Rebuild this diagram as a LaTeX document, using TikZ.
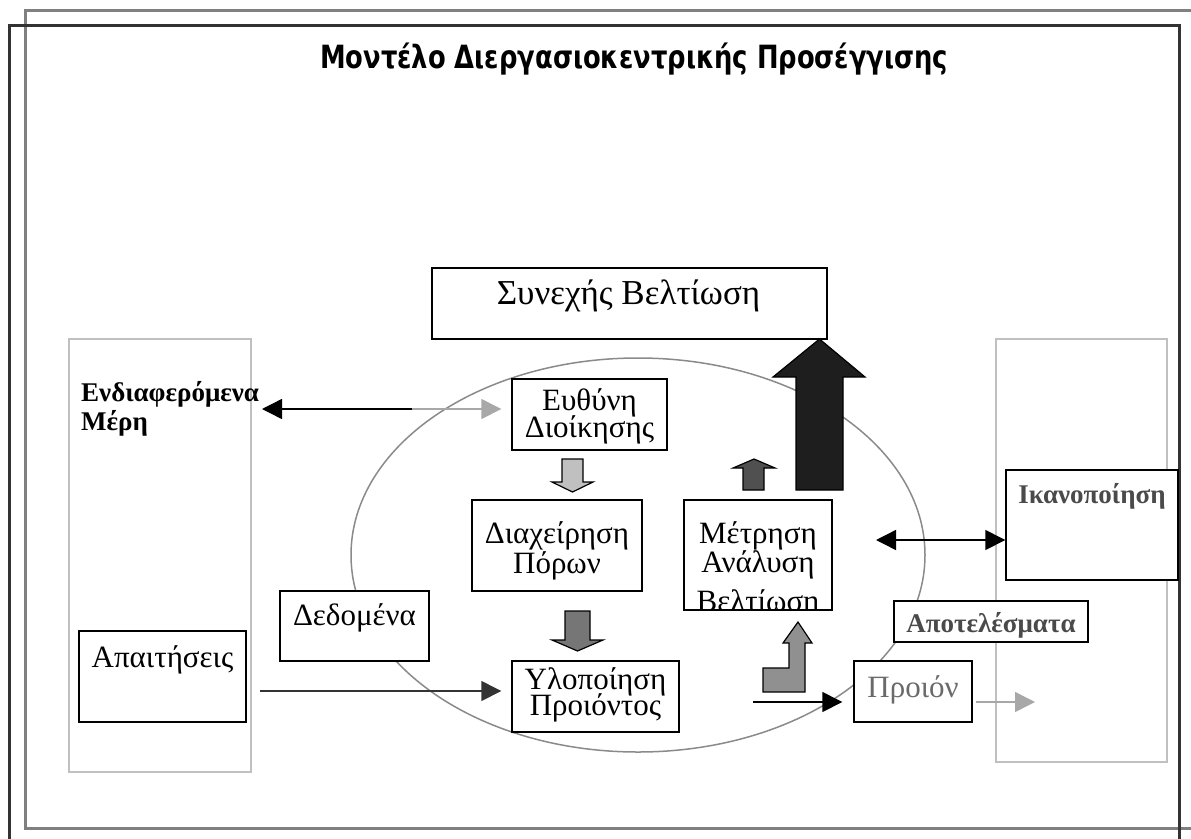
\documentclass[tikz,border=0pt]{standalone}
\usepackage{fontspec}
\usepackage{graphicx}
\setmainfont{Liberation Serif}
\newfontfamily\titlefont{DejaVu Sans}
\usetikzlibrary{arrows.meta}
\definecolor{framegray}{HTML}{808080}
\definecolor{framedark}{HTML}{333333}
\definecolor{panelgray}{HTML}{C0C0C0}
\definecolor{ellgray}{HTML}{8A8A8A}
\definecolor{lightfill}{HTML}{C0C0C0}
\definecolor{midfill}{HTML}{767676}
\definecolor{darkfill}{HTML}{505050}
\definecolor{blackfill}{HTML}{1E1E1E}
\definecolor{lfill}{HTML}{909090}
\definecolor{lightline}{HTML}{A8A8A8}
\definecolor{boldgray}{HTML}{4A4A4A}
\definecolor{prodgray}{HTML}{6A6A6A}
\tikzset{
  box/.style={draw=black, line width=1.4pt, fill=white, inner sep=0pt},
  panel/.style={draw=panelgray, line width=1.5pt, inner sep=0pt},
  txt/.style={font=\fontsize{31}{35}\selectfont, inner sep=0pt, anchor=base},
  bigtxt/.style={font=\fontsize{35}{39}\selectfont, inner sep=0pt, anchor=base},
  btxt/.style={font=\fontsize{27}{31}\selectfont\bfseries, inner sep=0pt, anchor=base},
  conn/.style={line width=1.4pt},
  blk/.style={draw=black, line width=1.2pt, line join=miter},
  tri/.tip={Triangle[length=20pt,width=20pt]}
}
\begin{document}
\begin{tikzpicture}[x=1pt,y=-1pt]
\useasboundingbox (0,0) rectangle (1191,838);
\clip (0,0) rectangle (1191,838);
% frames
\draw[framegray, line width=3pt] (25,10) rectangle (1210,828);
\draw[framedark, line width=3pt] (9,25) rectangle (1179,860);
% title
\node[anchor=base west, inner sep=0pt] (title) at (320,68)
  {\resizebox{628pt}{\height}{\titlefont\bfseries\fontsize{32}{36}\selectfont Μοντέλο Διεργασιοκεντρικής Προσέγγισης}};
% panels
\node[panel, minimum width=182pt, minimum height=433pt] (lpanel) at (160,555.5) {};
\node[panel, minimum width=171pt, minimum height=423pt] (rpanel) at (1081.5,550.5) {};
% ellipse
\coordinate (ellc) at (638,555);
\draw[ellgray, line width=1.5pt] (ellc) ellipse [x radius=287, y radius=197];
% boxes
\node[box, minimum width=395pt, minimum height=71pt] (syn) at (629.5,303.5) {};
\node[box, minimum width=155pt, minimum height=71pt] (euth) at (589.5,414.5) {};
\node[box, minimum width=170pt, minimum height=91pt] (diax) at (557,545.5) {};
\node[box, minimum width=167pt, minimum height=71pt] (ylo) at (595.5,696.5) {};
\node[box, minimum width=148pt, minimum height=110pt] (metr) at (758,555) {};
\node[box, minimum width=149pt, minimum height=70pt] (ded) at (354.5,626) {};
\node[box, minimum width=167pt, minimum height=91pt] (apait) at (162.5,676.5) {};
\node[box, minimum width=172pt, minimum height=110pt] (ikan) at (1092,525) {};
\node[box, minimum width=194pt, minimum height=41pt] (apot) at (991,621.5) {};
\node[box, minimum width=118pt, minimum height=61pt] (proion) at (913,691.5) {};
% texts
\node[bigtxt] (tsyn) at (628.5,304) {Συνεχής Βελτίωση};
\node[txt] (teuth1) at (589.5,410) {Ευθύνη};
\node[txt] (teuth2) at (589.5,437) {Διοίκησης};
\node[txt] (tdiax1) at (557,543) {Διαχείρηση};
\node[txt] (tdiax2) at (557,573) {Πόρων};
\node[txt] (tylo1) at (595.5,689) {Υλοποίηση};
\node[txt] (tylo2) at (595.5,715) {Προιόντος};
\node[txt] (tmetr1) at (758,543) {Μέτρηση};
\node[txt] (tmetr2) at (758,572) {Ανάλυση};
\begin{scope}
  \clip (metr.north west) rectangle (metr.south east);
  \node[txt] (tmetr3) at (758,611) {Βελτίωση};
\end{scope}
\draw[line width=1.4pt] (metr.north west) rectangle (metr.south east);
\node[txt] (tded) at (354.5,625) {Δεδομένα};
\node[txt] (tapait) at (162.5,667) {Απαιτήσεις};
\node[btxt, text=boldgray] (tikan) at (1092,503) {Ικανοποίηση};
\node[btxt, text=boldgray] (tapot) at (991,632) {Αποτελέσματα};
\node[txt, text=prodgray] (tproion) at (913,697) {Προιόν};
\node[btxt, anchor=base west] (tstake1) at (81,401) {Ενδιαφερόμενα};
\node[btxt, anchor=base west] (tstake2) at (81,430) {Μέρη};
% connectors
\coordinate (stakeL) at (262,409);
\coordinate (stakeM) at (412,409);
\draw[conn, {tri}-] (stakeL) -- (stakeM);
\draw[conn, lightline, -{tri}, shorten >=10pt] (stakeM) -- (euth.west |- stakeM);
\coordinate (reqS) at (260,691);
\draw[conn, draw=framedark, -{tri}, fill=framedark, shorten >=10pt] (reqS) -- (ylo.west |- reqS);
\coordinate (satL) at (876,540);
\draw[conn, {tri}-{tri}] (satL) -- (ikan.west |- satL);
\coordinate (prodS) at (753,702);
\draw[conn, -{tri}, shorten >=11pt] (prodS) -- (proion.west |- prodS);
\coordinate (outE) at (1035,702);
\draw[conn, lightline, -{tri}] ([xshift=3pt]proion.east |- outE) -- (outE);
% block arrows
\draw[blk, fill=lightfill] (562,459) -- (583,459) -- (583,482) -- (593,482) -- (572.5,492) -- (552,482) -- (562,482) -- cycle;
\draw[blk, fill=midfill] (565,611) -- (590,611) -- (590,640) -- (603,640) -- (577.5,651) -- (552,640) -- (565,640) -- cycle;
\draw[blk, fill=darkfill] (743,490) -- (764,490) -- (764,468) -- (775,468) -- (754,459) -- (733,468) -- (743,468) -- cycle;
\draw[blk, fill=blackfill] (796,490) -- (843,490) -- (843,377) -- (865,377) -- (819.5,339) -- (773,377) -- (796,377) -- cycle;
\draw[blk, fill=lfill] (763,692) -- (763,668) -- (789,668) -- (789,643) -- (783,643) -- (798,622) -- (812,643) -- (805,643) -- (805,692) -- cycle;
\end{tikzpicture}
\end{document}
